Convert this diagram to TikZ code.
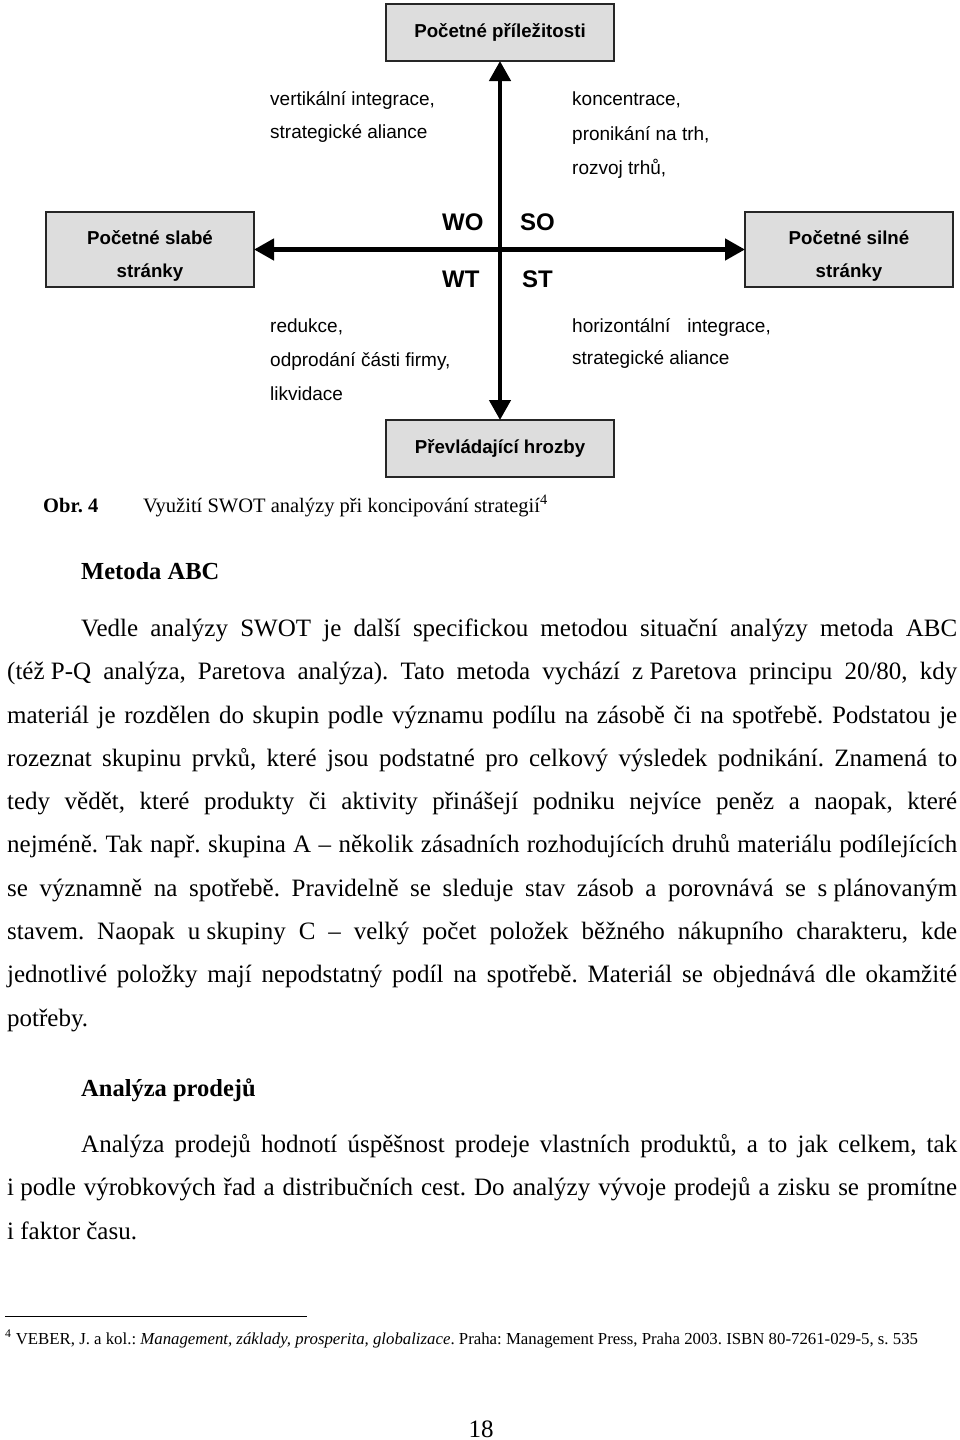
\documentclass[tikz,border=0pt]{standalone}
\usepackage{fontspec}
\setmainfont{Liberation Serif}
\setsansfont{Liberation Sans}
\usetikzlibrary{arrows.meta}
\definecolor{boxgray}{RGB}{221,221,221}

\begin{document}
\frenchspacing
\begin{tikzpicture}[x=1pt, y=-1pt,
    box/.style={draw=black!85, line width=1.5pt, fill=boxgray, inner sep=0pt, outer sep=0pt,
      align=center, font=\sffamily\bfseries\fontsize{18.7}{33}\selectfont},
    boxtext/.style={inner sep=0pt, align=center, font=\sffamily\bfseries\fontsize{18.7}{33}\selectfont},
    axis/.style={line width=4.5pt, {Triangle[length=20pt,width=21pt]}-{Triangle[length=20pt,width=21pt]}},
    quad/.style={anchor=base west, inner sep=0pt, font=\sffamily\bfseries\fontsize{24}{28}\selectfont},
    strat/.style={anchor=base west, inner sep=0pt, font=\sffamily\fontsize{19}{23}\selectfont},
    body/.style={anchor=base west, inner sep=0pt, font=\fontsize{25}{30}\selectfont},
    head/.style={body, font=\bfseries\fontsize{24.5}{30}\selectfont},
    capt/.style={anchor=base west, inner sep=0pt, font=\fontsize{20.5}{24}\selectfont},
    foot/.style={anchor=base west, inner sep=0pt, font=\fontsize{16.8}{20}\selectfont}]
  \useasboundingbox (0,0) rectangle (960,1440);

  % 箱を置く
  \node[box, minimum width=228pt, minimum height=57pt] (O) at (500, 32.5) {Početné příležitosti};
  \node[box, minimum width=208pt, minimum height=75pt] (W) at (150, 249.5) {};
  \node[box, minimum width=208pt, minimum height=75pt] (S) at (849, 249.5) {};
  \node[box, minimum width=228pt, minimum height=57pt] (T) at (500, 448.5) {Převládající hrozby};
  \node[boxtext] (Wt) at ([yshift=-6pt]W.center) {Početné slabé\\stránky};
  \node[boxtext] (St) at ([yshift=-6pt]S.center) {Početné silné\\stránky};

  % 矢印を引く
  \draw[axis] (W) -- (S);
  \draw[axis] (O) -- (T);

  % 値を入れる
  \node[quad] (WO) at (442, 230) {WO};
  \node[quad] (SO) at (520, 230) {SO};
  \node[quad] (WT) at (442, 287) {WT};
  \node[quad] (ST) at (522, 287) {ST};

  \node[strat] (wo1) at (270, 105) {vertikální integrace,};
  \node[strat] (wo2) at (270, 138) {strategické aliance};
  \node[strat] (so1) at (572, 105) {koncentrace,};
  \node[strat] (so2) at (572, 140) {pronikání na trh,};
  \node[strat] (so3) at (572, 174) {rozvoj trhů,};
  \node[strat] (wt1) at (270, 332) {redukce,};
  \node[strat] (wt2) at (270, 366) {odprodání části firmy,};
  \node[strat] (wt3) at (270, 400) {likvidace};
  \node[strat] (st1) at (572, 332) {horizontální\hspace{17pt}integrace,};
  \node[strat] (st2) at (572, 364) {strategické aliance};

  % 図の説明
  \node[capt, font=\bfseries\fontsize{20.5}{24}\selectfont] (obr) at (43, 512) {Obr. 4};
  \node[capt] (cap) at (143, 512) {Využití SWOT analýzy při koncipování strategií\textsuperscript{4}};

  % 本文
  \node[head] (h1) at (81, 579) {Metoda ABC};
  \node[body] (p1) at (81, 636) {\makebox[876pt][s]{Vedle analýzy SWOT je další specifickou metodou situační analýzy metoda ABC}};
  \node[body] (p2) at (7, 679) {\makebox[950pt][s]{\mbox{(též P-Q} analýza, Paretova analýza). Tato metoda vychází \mbox{z Paretova} principu 20/80, kdy}};
  \node[body] (p3) at (7, 723) {\makebox[950pt][s]{materiál je rozdělen do skupin podle významu podílu na zásobě či na spotřebě. Podstatou je}};
  \node[body] (p4) at (7, 766) {\makebox[950pt][s]{rozeznat skupinu prvků, které jsou podstatné pro celkový výsledek podnikání. Znamená to}};
  \node[body] (p5) at (7, 809) {\makebox[950pt][s]{tedy vědět, které produkty či aktivity přinášejí podniku nejvíce peněz a naopak, které}};
  \node[body] (p6) at (7, 852) {\makebox[950pt][s]{nejméně. Tak např. skupina A – několik zásadních rozhodujících druhů materiálu podílejících}};
  \node[body] (p7) at (7, 896) {\makebox[950pt][s]{se významně na spotřebě. Pravidelně se sleduje stav zásob a porovnává se \mbox{s plánovaným}}};
  \node[body] (p8) at (7, 939) {\makebox[950pt][s]{stavem. Naopak \mbox{u skupiny} C – velký počet položek běžného nákupního charakteru, kde}};
  \node[body] (p9) at (7, 982) {\makebox[950pt][s]{jednotlivé položky mají nepodstatný podíl na spotřebě. Materiál se objednává dle okamžité}};
  \node[body] (p10) at (7, 1026) {potřeby.};

  \node[head] (h2) at (81, 1096) {Analýza prodejů};
  \node[body] (q1) at (81, 1152) {\makebox[876pt][s]{Analýza prodejů hodnotí úspěšnost prodeje vlastních produktů, a to jak celkem, tak}};
  \node[body] (q2) at (7, 1195) {\makebox[950pt][s]{\mbox{i podle} výrobkových řad a distribučních cest. Do analýzy vývoje prodejů a zisku se promítne}};
  \node[body] (q3) at (7, 1239) {i faktor času.};

  % 脚注
  \coordinate (fa) at (5, 1316);
  \coordinate (fb) at (307, 1316);
  \draw[line width=1pt] (fa) -- (fb);
  \node[foot] (fn) at (5, 1344) {\textsuperscript{4} VEBER, J. a kol.: \textit{Management, základy, prosperita, globalizace}. Praha: Management Press, Praha 2003. ISBN 80-7261-029-5, s. 535};

  \node[body, anchor=base] (pg) at (481, 1437) {18};
\end{tikzpicture}
\end{document}
